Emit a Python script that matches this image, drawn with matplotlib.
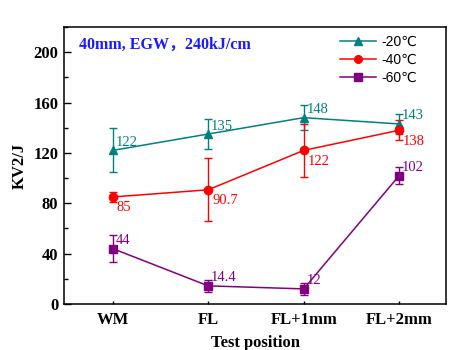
import matplotlib
matplotlib.use("Agg")
import matplotlib.pyplot as plt
from matplotlib.ticker import MultipleLocator
from matplotlib.lines import Line2D

categories = ["WM", "FL", "FL+1mm", "FL+2mm"]
labels = ["-20\u2103", "-40\u2103", "-60\u2103"]
v20 = [122, 135, 148, 143]
e20 = [17.5, 12, 10, 8]
v40 = [85, 90.7, 122, 138]
e40 = [3.7, 25, 21, 8]
v60 = [44, 14.4, 12, 102]
e60 = [11, 5, 4.7, 7]
colors = ["#008080", "#FF0000", "#800080"]
markers = ["^", "o", "s"]

serif = ["Liberation Serif", "DejaVu Serif"]
sans = ["Liberation Sans", "DejaVu Sans"]

fig = plt.figure(figsize=(4.69, 3.5), dpi=100)
ax = fig.add_axes([64/469, 1-304/350, (446-64)/469, (304-27)/350])

x = list(range(len(categories)))
series = [(v20, e20), (v40, e40), (v60, e60)]
handles = []
for (vals, errs), c, m, lab in zip(series, colors, markers, labels):
    ax.errorbar(x, vals, yerr=errs, color=c, marker=m, markersize=6, lw=1.1,
                elinewidth=1.0, capsize=3, capthick=1.0)
    handles.append(Line2D([], [], color=c, marker=m, markersize=5.5, lw=1.1, label=lab))

def fmt(v):
    return f"{v:g}"

for i, v in enumerate(v20):
    ax.annotate(fmt(v), (x[i], v), xytext=(3, 8), textcoords="offset pixels",
                ha="left", va="center", color=colors[0], fontsize=10.5, family=serif)
for i, v in enumerate(v40):
    ax.annotate(fmt(v), (x[i], v), xytext=(4, -11), textcoords="offset pixels",
                ha="left", va="center", color=colors[1], fontsize=10.5, family=serif)
for i, v in enumerate(v60):
    ax.annotate(fmt(v), (x[i], v), xytext=(3, 8), textcoords="offset pixels",
                ha="left", va="center", color=colors[2], fontsize=10.5, family=serif)

ax.set_xlim(-0.51, 3.49)
ax.set_ylim(0, 220)
ax.set_xticks(x)
ax.set_xticklabels(categories, fontsize=12, fontweight="bold", family=serif)
ax.yaxis.set_major_locator(MultipleLocator(40))
ax.yaxis.set_minor_locator(MultipleLocator(20))
ax.set_yticks([0, 40, 80, 120, 160, 200])
for lbl in ax.get_yticklabels():
    lbl.set_fontsize(12)
    lbl.set_fontweight("bold")
    lbl.set_family(serif)
ax.tick_params(axis="y", which="major", direction="in", length=5, width=1, pad=4)
ax.tick_params(axis="y", which="minor", direction="in", length=3, width=1)
ax.tick_params(axis="x", which="major", direction="in", length=2, width=1, pad=6)
for s in ax.spines.values():
    s.set_linewidth(1.1)

ax.set_xlabel("Test position", fontsize=12, fontweight="bold", family=serif, labelpad=5)
ax.set_ylabel("KV2/J", fontsize=12, fontweight="bold", family=serif, labelpad=4)

ax.text(0.04, 0.935, "40mm, EGW\uff0c240kJ/cm", transform=ax.transAxes,
        color="#1a1aff", fontsize=11.5, fontweight="bold",
        family=["Liberation Serif", "Noto Sans CJK SC", "DejaVu Serif"],
        ha="left", va="center")

leg = ax.legend(handles=handles, loc="upper left", frameon=False,
                prop={"family": sans, "size": 10},
                handlelength=2.6, handletextpad=0.4, labelspacing=0.3,
                borderaxespad=0.0, borderpad=0.0,
                bbox_to_anchor=((340 - 64) / 382, (304 - 35) / 277))

fig.savefig("out.png", dpi=100)
